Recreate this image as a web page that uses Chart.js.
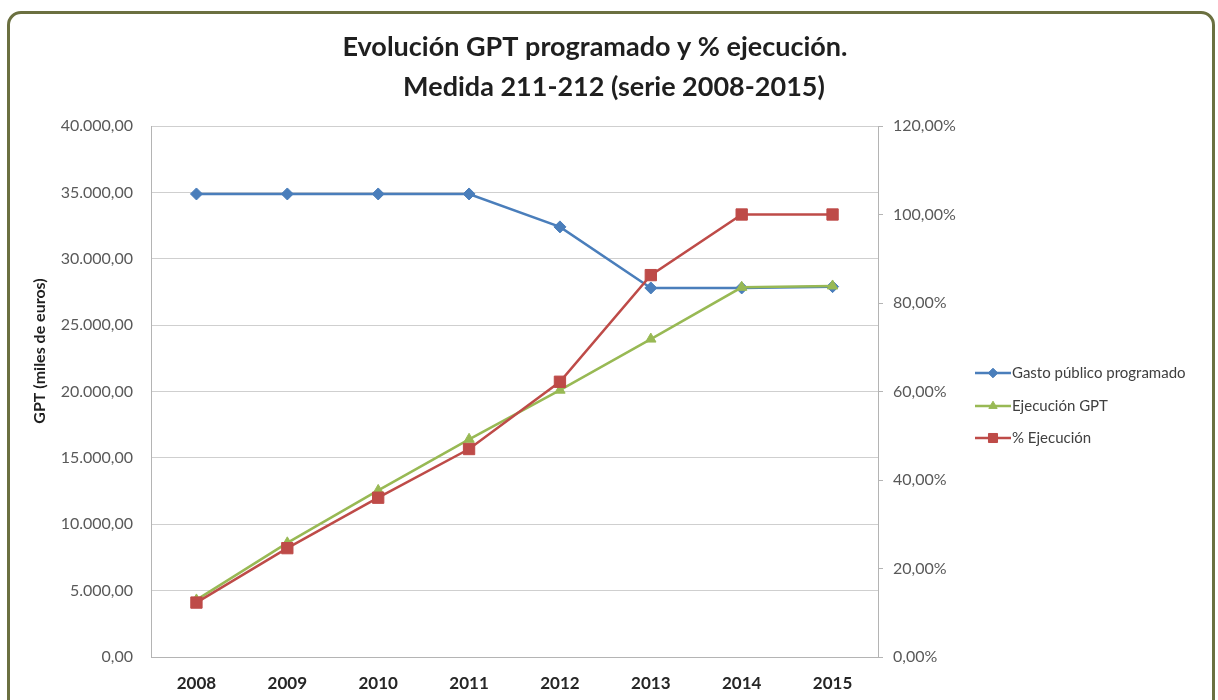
<!DOCTYPE html>
<html>
<head>
<meta charset="utf-8">
<script src="https://cdn.jsdelivr.net/npm/chart.js@4.4.1/dist/chart.umd.min.js"></script>
<style>
  html, body { margin: 0; padding: 0; background: #fff; }
  #wrap { position: relative; width: 1218px; height: 700px; overflow: hidden; }
  #frame {
    position: absolute; left: 7px; top: 11px; width: 1208px; height: 720px;
    border: 3px solid #6b7040; border-radius: 14px; box-sizing: border-box;
    pointer-events: none;
  }
  canvas { position: absolute; left: 0; top: 0; }
</style>
</head>
<body>
<div id="wrap">
  <canvas id="myChart" width="1218" height="700"></canvas>
  <div id="frame"></div>
</div>
<script>
// datos
const years = ['2008', '2009', '2010', '2011', '2012', '2013', '2014', '2015'];
const gastoProgramado = [34880, 34880, 34880, 34880, 32400, 27800, 27800, 27900];
const ejecucionGPT = [4300, 8600, 12550, 16400, 20100, 23950, 27850, 27950];
const pctEjecucion = [12.3, 24.6, 36.0, 47.0, 62.2, 86.3, 100.0, 100.0];

const titleLines = ['Evolución GPT programado y % ejecución.', 'Medida 211-212 (serie 2008-2015)'];
const yTitle = 'GPT (miles de euros)';
const seriesNames = ['Gasto público programado', 'Ejecución GPT', '% Ejecución'];

const BLUE = '#4a7ebb';
const GREEN = '#98b954';
const RED = '#be4b48';
const FONT = 'Lato, "Open Sans", sans-serif';

function fmtMiles(v) {
    let parts = v.toFixed(2).split('.');
    parts[0] = parts[0].replace(/\B(?=(\d{3})+(?!\d))/g, '.');
    return parts.join(',');
}

function fmtPct(v) {
    return v.toFixed(2).replace('.', ',') + '%';
}

/*========================================
 * titulo, titulo del eje y leyenda
 *========================================*/
const extras = {
    id: 'extras',
    afterDraw(chart) {
        const ctx = chart.ctx;
        ctx.save();
        ctx.fillStyle = '#1f1f1f';
        ctx.textBaseline = 'middle';
        ctx.textAlign = 'center';
        ctx.font = 'bold 27px ' + FONT;
        ctx.fillText(titleLines[0], 595, 47);
        ctx.fillText(titleLines[1], 614, 87);

        // titulo eje izquierdo
        ctx.save();
        ctx.translate(40, 351);
        ctx.rotate(-Math.PI / 2);
        ctx.font = 'bold 16px ' + FONT;
        ctx.fillText(yTitle, 0, 0);
        ctx.restore();

        // leyenda
        const rows = [373, 406, 438];
        chart.data.datasets.forEach((ds, i) => {
            const y = rows[i];
            ctx.strokeStyle = ds.borderColor;
            ctx.fillStyle = ds.borderColor;
            ctx.lineWidth = 2.5;
            ctx.beginPath();
            ctx.moveTo(975, y);
            ctx.lineTo(1011, y);
            ctx.stroke();
            ctx.lineWidth = 1;
            Chart.helpers.drawPoint(ctx, {
                pointStyle: ds.pointStyle,
                radius: ds.pointRadius * 0.8,
                borderWidth: 1,
                rotation: 0
            }, 993, y);
            ctx.fillStyle = '#404040';
            ctx.textAlign = 'left';
            ctx.font = '15px ' + FONT;
            ctx.fillText(seriesNames[i], 1012, y);
        });
        ctx.restore();
    }
};

const ctx = document.getElementById('myChart').getContext('2d');

const data = {
    labels: years,
    datasets: [{
        label: seriesNames[0],
        data: gastoProgramado,
        yAxisID: 'y',
        borderColor: BLUE,
        backgroundColor: BLUE,
        borderWidth: 2.5,
        pointStyle: 'rectRot',
        pointRadius: 6,
        pointBorderWidth: 1,
        order: 3
    }, {
        label: seriesNames[1],
        data: ejecucionGPT,
        yAxisID: 'y',
        borderColor: GREEN,
        backgroundColor: GREEN,
        borderWidth: 2.5,
        pointStyle: 'triangle',
        pointRadius: 6,
        pointBorderWidth: 1,
        order: 2
    }, {
        label: seriesNames[2],
        data: pctEjecucion,
        yAxisID: 'y2',
        borderColor: RED,
        backgroundColor: RED,
        borderWidth: 2.5,
        pointStyle: 'rect',
        pointRadius: 8,
        pointBorderWidth: 1,
        order: 1
    }]
};

const options = {
    responsive: false,
    animation: false,
    events: [],
    layout: { padding: { top: 126, left: 0, right: 0, bottom: 0 } },
    plugins: {
        legend: { display: false },
        title: { display: false },
        tooltip: { enabled: false }
    },
    scales: {
        x: {
            type: 'category',
            offset: true,
            grid: { display: false, drawTicks: false },
            border: { display: true, color: '#b4b4b4', width: 1 },
            ticks: {
                color: '#262626',
                font: { family: FONT, size: 17, weight: 'bold' },
                padding: 16,
                maxRotation: 0,
                autoSkip: false
            },
            afterFit: (scale) => { scale.height = 43; }
        },
        y: {
            position: 'left',
            min: 0,
            max: 40000,
            grid: { color: '#cfcfcf', lineWidth: 1, drawTicks: false },
            border: { display: true, color: '#b4b4b4', width: 1 },
            ticks: {
                stepSize: 5000,
                color: '#595959',
                font: { family: FONT, size: 16 },
                padding: 18,
                callback: (v) => fmtMiles(v)
            },
            afterFit: (scale) => { scale.width = 151; }
        },
        y2: {
            position: 'right',
            min: 0,
            max: 120,
            grid: { drawOnChartArea: false, drawTicks: true, tickLength: 5, color: '#b4b4b4' },
            border: { display: true, color: '#b4b4b4', width: 1 },
            ticks: {
                stepSize: 20,
                color: '#595959',
                font: { family: FONT, size: 16 },
                padding: 10,
                callback: (v) => fmtPct(v)
            },
            afterFit: (scale) => { scale.width = 340; }
        }
    },
    elements: { line: { tension: 0 } }
};

let config = {
    type: 'line',
    data: data,
    options: options,
    plugins: [extras]
};

let graph = new Chart(ctx, config);
</script>
</body>
</html>
